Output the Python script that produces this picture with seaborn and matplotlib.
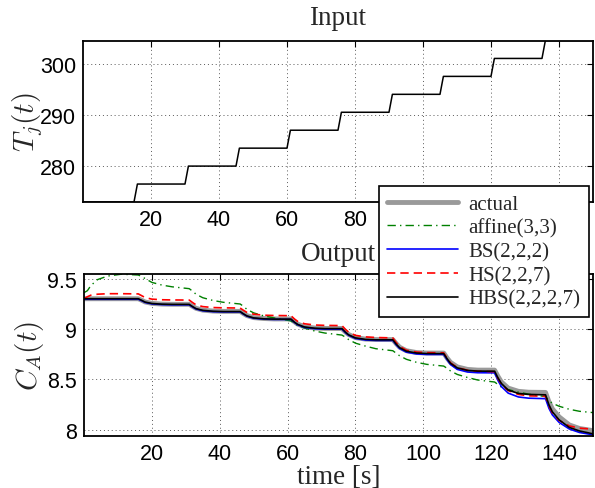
import matplotlib
matplotlib.use("Agg")
import matplotlib.pyplot as plt
import seaborn as sns

# input temperature (step changes every 15 s)
t_in = [0, 15, 16, 30, 31, 45, 46, 60, 61, 75, 76, 90, 91, 105, 106, 120, 121, 135, 136, 150]
Tj = [273, 273, 276.5, 276.5, 280, 280, 283.5, 283.5, 287, 287, 290.5, 290.5,
      294, 294, 297.5, 297.5, 301, 301, 304.5, 304.5]

# output concentration
t_out = [0, 1, 2, 4, 7, 11,
         16, 17, 18, 20, 23, 26,
         31, 32, 33, 35, 38, 41,
         46, 47, 48, 50, 53, 56,
         61, 62, 63, 65, 68, 71,
         76, 77, 78, 80, 83, 86,
         91, 92, 93, 95, 98, 101,
         106, 107, 108, 110, 113, 116,
         121, 122, 123, 125, 128, 131,
         136, 137, 138, 140, 143, 146,
         150]

ca_actual = [9.30, 9.30, 9.30, 9.30, 9.30, 9.30,
             9.300, 9.285, 9.268, 9.254, 9.247, 9.245,
             9.245, 9.225, 9.205, 9.187, 9.178, 9.175,
             9.175, 9.153, 9.133, 9.113, 9.104, 9.100,
             9.100, 9.072, 9.048, 9.022, 9.010, 9.006,
             9.005, 8.972, 8.945, 8.915, 8.900, 8.896,
             8.895, 8.855, 8.820, 8.785, 8.767, 8.762,
             8.762, 8.712, 8.670, 8.625, 8.600, 8.593,
             8.593, 8.530, 8.475, 8.415, 8.383, 8.374,
             8.372, 8.280, 8.210, 8.130, 8.050, 8.015,
             7.993]

ca_affine = [9.36, 9.38, 9.43, 9.49, 9.525, 9.543,
             9.535, 9.52, 9.50, 9.462, 9.435, 9.418,
             9.40, 9.375, 9.345, 9.31, 9.283, 9.265,
             9.248, 9.225, 9.195, 9.16, 9.13, 9.11,
             9.08, 9.055, 9.035, 9.01, 8.98, 8.96,
             8.94, 8.92, 8.895, 8.86, 8.83, 8.805,
             8.785, 8.76, 8.735, 8.70, 8.67, 8.65,
             8.633, 8.61, 8.585, 8.55, 8.52, 8.495,
             8.475, 8.45, 8.425, 8.40, 8.375, 8.355,
             8.33, 8.29, 8.265, 8.235, 8.205, 8.185,
             8.172]

ca_bs = [9.295, 9.295, 9.295, 9.295, 9.295, 9.295,
         9.295, 9.280, 9.263, 9.249, 9.242, 9.240,
         9.240, 9.218, 9.198, 9.181, 9.172, 9.170,
         9.170, 9.147, 9.127, 9.107, 9.098, 9.095,
         9.095, 9.065, 9.041, 9.016, 9.003, 8.999,
         8.999, 8.965, 8.937, 8.906, 8.891, 8.887,
         8.887, 8.843, 8.807, 8.771, 8.753, 8.748,
         8.748, 8.695, 8.648, 8.600, 8.574, 8.567,
         8.566, 8.490, 8.430, 8.365, 8.327, 8.315,
         8.310, 8.215, 8.150, 8.075, 8.010, 7.975,
         7.952]

ca_hs = [9.30, 9.32, 9.335, 9.345, 9.35, 9.35,
         9.348, 9.33, 9.312, 9.296, 9.29, 9.288,
         9.287, 9.262, 9.24, 9.222, 9.213, 9.21,
         9.208, 9.185, 9.165, 9.147, 9.137, 9.134,
         9.132, 9.10, 9.075, 9.052, 9.04, 9.036,
         9.034, 8.998, 8.968, 8.937, 8.922, 8.916,
         8.912, 8.865, 8.828, 8.79, 8.772, 8.766,
         8.764, 8.71, 8.665, 8.618, 8.592, 8.582,
         8.577, 8.51, 8.455, 8.39, 8.352, 8.338,
         8.334, 8.24, 8.17, 8.095, 8.04, 8.018,
         8.008]

ca_hbs = [9.30, 9.30, 9.30, 9.30, 9.30, 9.30,
          9.300, 9.284, 9.267, 9.253, 9.246, 9.244,
          9.244, 9.222, 9.202, 9.185, 9.176, 9.173,
          9.173, 9.150, 9.130, 9.110, 9.101, 9.098,
          9.098, 9.068, 9.045, 9.020, 9.008, 9.004,
          9.004, 8.970, 8.942, 8.912, 8.897, 8.893,
          8.893, 8.850, 8.815, 8.780, 8.762, 8.757,
          8.756, 8.705, 8.660, 8.615, 8.590, 8.583,
          8.582, 8.515, 8.460, 8.395, 8.362, 8.352,
          8.348, 8.250, 8.180, 8.100, 8.025, 7.990,
          7.962]

xticks = [20, 40, 60, 80, 100, 120, 140]
yticks_top = [280, 290, 300]
yticks_bot = [8, 8.5, 9, 9.5]
ytick_bot_labels = ['8', '8.5', '9', '9.5']

sns.set_style("white")
plt.rcParams['font.family'] = ['Liberation Sans', 'DejaVu Sans']
plt.rcParams['mathtext.fontset'] = 'cm'

serif = ['Liberation Serif', 'DejaVu Serif']

fig = plt.figure(figsize=(5.95, 4.89), dpi=100)
ax1 = fig.add_axes([0.1395, 0.5849, 0.8571, 0.3292])
ax2 = fig.add_axes([0.1412, 0.1063, 0.8555, 0.3313])

sns.lineplot(x=t_in, y=Tj, ax=ax1, color='black', linewidth=1.1)

sns.lineplot(x=t_out, y=ca_actual, ax=ax2, color='#9a9a9a', linewidth=3.5, label='actual')
sns.lineplot(x=t_out, y=ca_affine, ax=ax2, color='#008000', linewidth=1.0,
             linestyle=(0, (6, 3, 1, 3)), label='affine(3,3)')
sns.lineplot(x=t_out, y=ca_bs, ax=ax2, color='#0000ff', linewidth=1.2, label='BS(2,2,2)')
sns.lineplot(x=t_out, y=ca_hs, ax=ax2, color='#ff0000', linewidth=1.2,
             linestyle=(0, (5, 3)), label='HS(2,2,7)')
sns.lineplot(x=t_out, y=ca_hbs, ax=ax2, color='black', linewidth=1.2, label='HBS(2,2,2,7)')

for ax in (ax1, ax2):
    ax.set_xlim(0, 150)
    ax.set_xticks(xticks)
    ax.grid(True, color='0.35', linestyle=(0, (1, 3)), linewidth=0.7)
    ax.tick_params(direction='in', top=True, right=True, length=4, width=0.8,
                   labelsize=15.5, colors='black', pad=5)
    for sp in ax.spines.values():
        sp.set_color('black')
        sp.set_linewidth(1.3)

ax1.set_ylim(273, 304.4)
ax1.set_yticks(yticks_top)
ax2.set_ylim(7.94, 9.545)
ax2.set_yticks(yticks_bot)
ax2.set_yticklabels(ytick_bot_labels)

ax1.set_title('Input', family=serif, fontsize=19.5, pad=12)
ax2.set_title('Output', family=serif, fontsize=19.5, pad=10)
ax2.set_xlabel('time [s]', family=serif, fontsize=19.5, labelpad=0)
ax1.set_ylabel('$T_j(t)$', fontsize=21)
ax2.set_ylabel('$C_A(t)$', fontsize=21)
ax1.yaxis.set_label_coords(-0.075, 0.5)
ax2.yaxis.set_label_coords(-0.075, 0.5)

handles, labels = ax2.get_legend_handles_labels()
ax2.get_legend().remove()
leg = fig.legend(handles, labels, loc='upper right', bbox_to_anchor=(589 / 595, 1 - 187 / 489),
                 prop={'family': serif, 'size': 15}, frameon=True, fancybox=False,
                 framealpha=1, edgecolor='black', borderpad=0.4, handlelength=3.4,
                 handletextpad=0.5, labelspacing=0.2, borderaxespad=0)
leg.get_frame().set_linewidth(1.2)

fig.savefig('out.png', dpi=100)
